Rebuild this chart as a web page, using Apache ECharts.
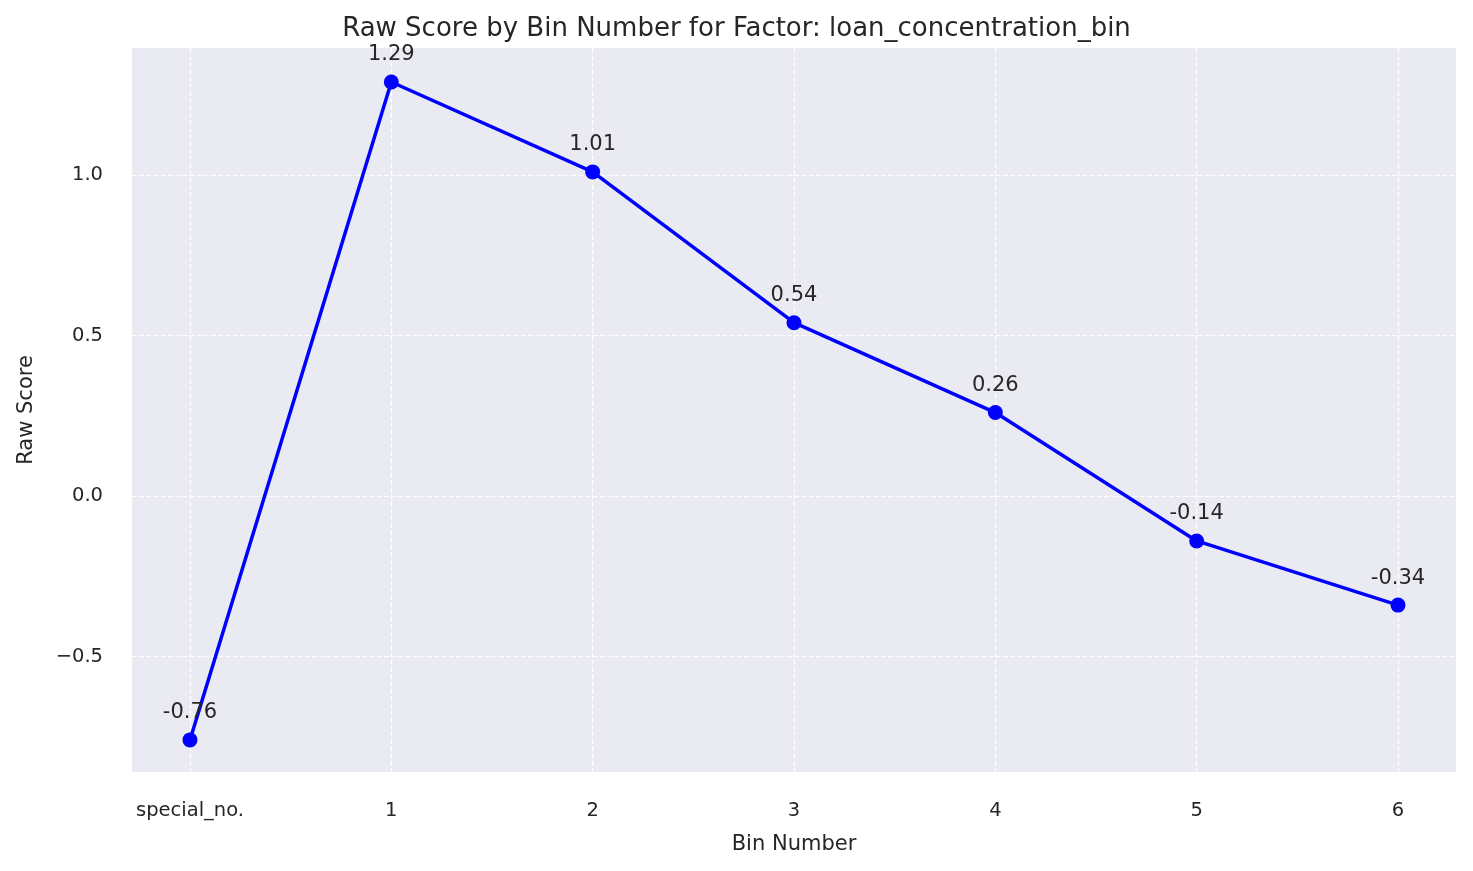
<!DOCTYPE html>
<html><head><meta charset="utf-8">
<script src="https://cdn.jsdelivr.net/npm/echarts@6/dist/echarts.min.js"></script>
<style>html,body{margin:0;padding:0;background:#fff}#c{width:1473px;height:871px}</style>
</head><body><div id="c"></div>
<script>
const categories = ['special_no.', '1', '2', '3', '4', '5', '6'];
const rawScores = [-0.76, 1.29, 1.01, 0.54, 0.26, -0.14, -0.34];
const yTicks = [-0.5, 0.0, 0.5, 1.0];
const xPositions = categories.map((c, i) => i);
const font = 'DejaVu Sans';
const chart = echarts.init(document.getElementById('c'));
chart.setOption({
  animation: false,
  textStyle: {fontFamily: font},
  title: {text: 'Raw Score by Bin Number for Factor: loan_concentration_bin', left: 'center', top: 11,
    textStyle: {fontFamily: font, fontSize: 26, fontWeight: 'normal', color: '#262626'}},
  grid: {left: 132, right: 17, top: 48, bottom: 99, show: true, backgroundColor: '#eaeaf2', borderWidth: 0},
  xAxis: {type: 'value', min: -0.288, max: 6.288,
    name: 'Bin Number', nameLocation: 'middle', nameGap: 62,
    nameTextStyle: {fontFamily: font, fontSize: 21, color: '#262626'},
    axisLine: {show: false}, axisTick: {show: false, customValues: xPositions},
    axisLabel: {customValues: xPositions, margin: 29, fontFamily: font, fontSize: 19.5, color: '#262626',
      formatter: v => categories[Math.round(v)]},
    splitLine: {show: true, lineStyle: {color: '#ffffff', type: 'dashed', width: 1.2}}},
  yAxis: {type: 'value', min: -0.86, max: 1.396,
    name: 'Raw Score', nameLocation: 'middle', nameGap: 95,
    nameTextStyle: {fontFamily: font, fontSize: 21, color: '#262626'},
    axisLine: {show: false}, axisTick: {show: false, customValues: yTicks},
    axisLabel: {customValues: yTicks, margin: 29, fontFamily: font, fontSize: 19.5, color: '#262626',
      formatter: v => (v < 0 ? '\u2212' + Math.abs(v).toFixed(1) : v.toFixed(1))},
    splitLine: {show: true, lineStyle: {color: '#ffffff', type: 'dashed', width: 1.2}}},
  series: [{type: 'line', data: rawScores.map((v, i) => [xPositions[i], v]),
    lineStyle: {color: '#0000ff', width: 3.5}, itemStyle: {color: '#0000ff'},
    symbol: 'circle', symbolSize: 15, showSymbol: true,
    label: {show: true, position: 'top', distance: 9, fontFamily: font, fontSize: 21, color: '#262626',
      formatter: p => p.value[1].toFixed(2)}}]
});
</script></body></html>
